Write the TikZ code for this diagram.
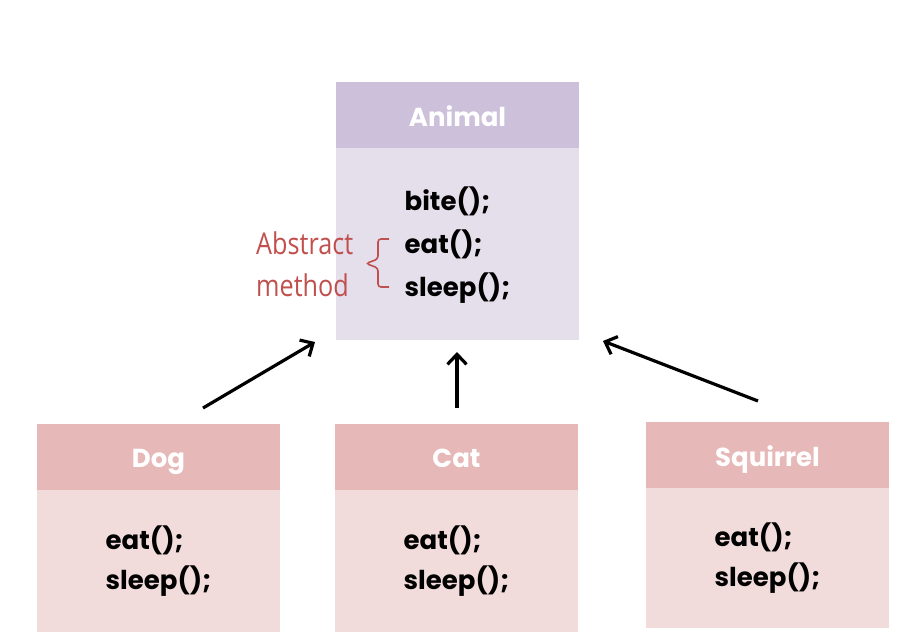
\documentclass[tikz,border=0pt]{standalone}
\usepackage{fontspec}
\setmainfont{Poppins}
\newfontfamily\notefont[FakeStretch=0.84]{Open Sans}
\usetikzlibrary{positioning}
\usetikzlibrary{arrows.meta}
\definecolor{animalhead}{HTML}{CCC0DA}
\definecolor{animalbody}{HTML}{E5DFEC}
\definecolor{childhead}{HTML}{E6B9B8}
\definecolor{childbody}{HTML}{F2DCDB}
\definecolor{notered}{HTML}{C0504D}
\tikzset{
  head/.style={minimum width=243pt, minimum height=66pt, inner sep=0pt,
    text=white, text height=23pt, text depth=1pt,
    font=\fontsize{26}{30}\selectfont\bfseries},
  body/.style={minimum width=243pt, inner sep=0pt, align=left,
    font=\fontsize{26}{43}\selectfont\bfseries},
  note/.style={text=notered, align=left, inner sep=0pt,
    font=\notefont\fontsize{30}{42}\selectfont},
  inherit/.style={-{Straight Barb[length=10pt,width=19pt]}, line width=3.2pt},
}

\begin{document}
\begin{tikzpicture}[x=1pt,y=-1pt]
\useasboundingbox (0,0) rectangle (916,643);
% parent class
\node[head, fill=animalhead] (animal) at (457.5,115) {Animal};
\node[body, fill=animalbody, minimum height=192pt, below=0pt of animal] (animalbox) {bite();\\eat();\\sleep();\\[-37pt]};
% sub classes
\node[head, fill=childhead] (dog) at (158.5,456.5) {Dog};
\node[body, fill=childbody, minimum height=142pt, below=0pt of dog] (dogbox) {eat();\\[-3pt]sleep();};
\node[head, fill=childhead] (cat) at (456.5,456.5) {Cat};
\node[body, fill=childbody, minimum height=142pt, below=0pt of cat] (catbox) {eat();\\[-3pt]sleep();};
\node[head, fill=childhead] (squirrel) at (767.5,455) {Squirrel};
\node[body, fill=childbody, minimum height=140pt, below=0pt of squirrel] (squirrelbox) {eat();\\[-3pt]sleep();};
% abstract method note
\node[note, anchor=west] (abstract) at (256,264) {Abstract\\method};
\draw[notered, line width=1.6pt, rounded corners=3pt]
  (389,239) -- (378,239) -- (378,259) -- (366,263.5) -- (378,268) -- (378,287) -- (389,287);
% inheritance arrows
\coordinate (dogtail) at (203,408);
\coordinate (dogtip) at (315,342);
\coordinate (cattail) at (457,408);
\coordinate (cattip) at (457,352);
\coordinate (squirreltail) at (758,401);
\coordinate (squirreltip) at (603,341);
\draw[inherit] (dogtail) -- (dogtip);
\draw[inherit] (cattail) -- (cattip);
\draw[inherit] (squirreltail) -- (squirreltip);
\end{tikzpicture}
\end{document}
